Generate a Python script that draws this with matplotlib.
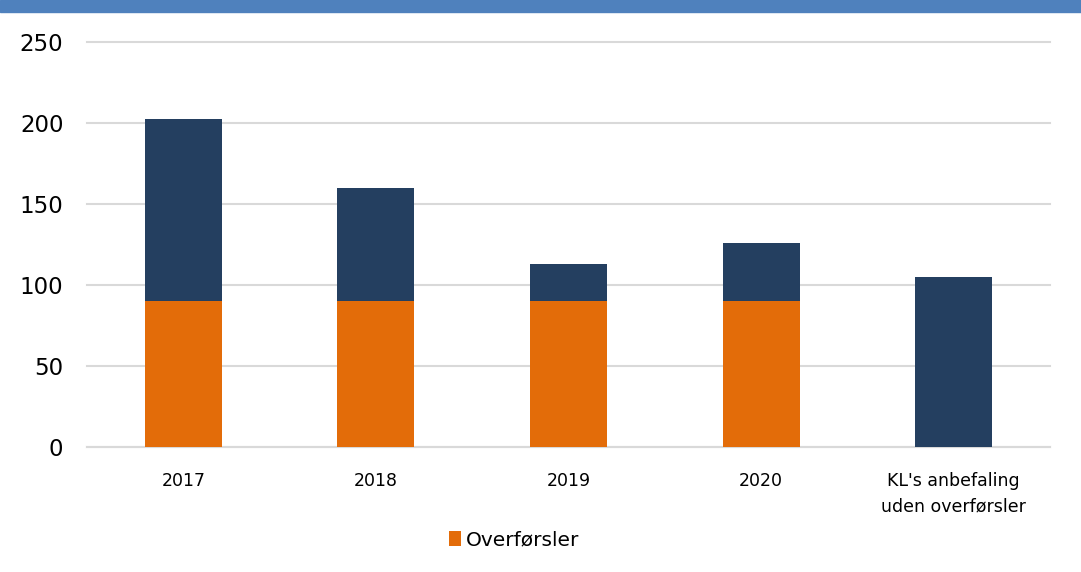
import matplotlib.pyplot as plt
from matplotlib.patches import Rectangle

# data
categories = ['2017', '2018', '2019', '2020', "KL's anbefaling\nuden overførsler"]
overforsler = [90, 90, 90, 90, 0]
resten = [113, 70, 23, 36, 105]

orange = '#E36C09'
navy = '#243F60'
grid_col = '#D9D9D9'

fig = plt.figure(figsize=(10.81, 5.72), dpi=100)
ax = fig.add_axes([0.0805, 0.2185, 0.8908, 0.7072])

x = range(len(categories))
ax.bar(x, overforsler, width=0.4, color=orange, label='Overførsler', zorder=3)
ax.bar(x, resten, width=0.4, bottom=overforsler, color=navy, label='_nolegend_', zorder=3)

ax.set_xlim(-0.5, 4.5)
ax.set_ylim(0, 250)
ax.set_yticks([0, 50, 100, 150, 200, 250])
ax.set_xticks(list(x))
ax.set_xticklabels(categories, fontsize=12.5, linespacing=1.55)
ax.tick_params(axis='y', labelsize=16.5, length=0, pad=17)
ax.tick_params(axis='x', length=0, pad=18)

ax.grid(axis='y', color=grid_col, linewidth=1.5, zorder=0)
ax.set_axisbelow(True)
for line in ax.get_ygridlines():
    line.set_clip_on(False)
for s in ['top', 'right', 'left']:
    ax.spines[s].set_visible(False)
ax.spines['bottom'].set_color(grid_col)
ax.spines['bottom'].set_linewidth(1.5)

ax.legend(loc='center', bbox_to_anchor=(514 / 1081, 1 - 540 / 572),
          bbox_transform=fig.transFigure, frameon=False, fontsize=14.5,
          handlelength=0.6, handleheight=0.75, handletextpad=0.25)

# blue band across the top
fig.patches.append(Rectangle((0, 1 - 12 / 572), 1, 12 / 572, transform=fig.transFigure,
                             color='#4F81BD', zorder=0))

fig.savefig('out.png', dpi=100)
